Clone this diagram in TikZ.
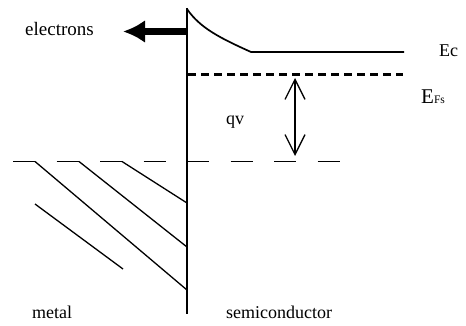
\documentclass[tikz,border=0pt]{standalone}
\usepackage{fontspec}
\setmainfont{Liberation Serif}
\usetikzlibrary{arrows.meta}
\begin{document}
\begin{tikzpicture}[x=1pt,y=-1pt,
  lbl/.style={inner sep=0pt, anchor=base west, font=\fontsize{18}{20}\selectfont},
  band/.style={line width=1.7pt},
  thin/.style={line width=1.3pt}]
\useasboundingbox (0,0) rectangle (466,326);
% coordinates
\coordinate (top) at (187,8);
\coordinate (bot) at (187,314);
\coordinate (ec0) at (187,9);
\coordinate (ec1) at (251,52);
\coordinate (ec2) at (404,52);
\coordinate (ef0) at (188,74.5);
\coordinate (ef1) at (403,74.5);
\coordinate (m0) at (13,161.5);
\coordinate (m1) at (340,161.5);
\coordinate (qa) at (295,78);
\coordinate (qb) at (295,156);
\coordinate (ea) at (187,31.5);
\coordinate (eb) at (123,31.5);
\coordinate (d1a) at (35,161.5);  \coordinate (d1b) at (187,290);
\coordinate (d2a) at (79,161.5);  \coordinate (d2b) at (187,247);
\coordinate (d3a) at (122,161.5); \coordinate (d3b) at (187,203);
\coordinate (d4a) at (35,204);    \coordinate (d4b) at (123,269);
% interface
\draw[line width=2pt] (top) -- (bot);
% conduction band
\draw[band] (ec0) .. controls (200,28) and (220,38) .. (ec1) -- (ec2);
% Fermi level in semiconductor
\draw[line width=2.2pt, dash pattern=on 8pt off 5pt] (ef0) -- (ef1);
% metal Fermi level
\draw[band, dash pattern=on 22pt off 21.5pt] (m0) -- (m1);
% diagonals
\draw[thin] (d1a) -- (d1b);
\draw[thin] (d2a) -- (d2b);
\draw[thin] (d3a) -- (d3b);
\draw[thin] (d4a) -- (d4b);
% qV arrow
\draw[thin, {Straight Barb[length=20pt,width=20pt]}-{Straight Barb[length=20pt,width=20pt]}] (qa) -- (qb);
% electrons arrow
\draw[line width=7pt, -{Latex[length=22pt,width=23pt]}] (ea) -- (eb);
% labels
\node[lbl, font=\fontsize{19}{21}\selectfont] (electrons) at (25,36) {electrons};
\node[lbl] (ec) at (439,57) {Ec};
\node[lbl] (efs) at (421,104) {\fontsize{21}{23}\selectfont E\fontsize{11.5}{12}\selectfont Fs};
\node[lbl] (qv) at (226,125) {qv};
\node[lbl] (metal) at (32,318) {metal};
\node[lbl] (semi) at (226,318) {semiconductor};
\end{tikzpicture}
\end{document}
